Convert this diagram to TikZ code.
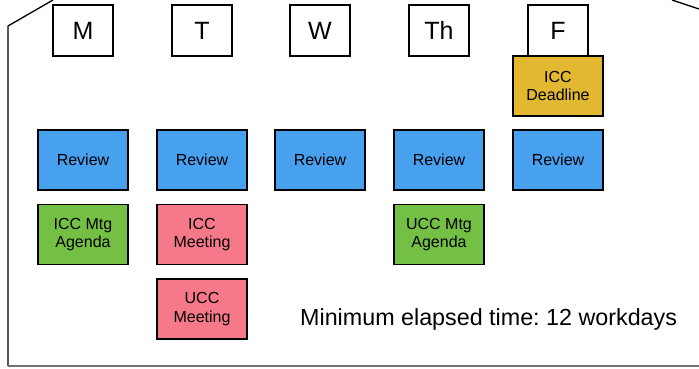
\documentclass[tikz,border=0pt]{standalone}
\usepackage{fontspec}
\setmainfont{Liberation Sans}
\frenchspacing
\definecolor{revblue}{RGB}{71,161,239}
\definecolor{agreen}{RGB}{116,192,68}
\definecolor{mpink}{RGB}{246,121,138}
\definecolor{dgold}{RGB}{226,184,48}
\begin{document}
\begin{tikzpicture}[x=1pt,y=-1pt,
  day/.style={draw=black,line width=1.1pt,fill=white,minimum width=60pt,minimum height=51pt,inner sep=0pt,font=\fontsize{25}{29}\selectfont},
  task/.style={draw=black,line width=1.1pt,minimum width=90pt,minimum height=60pt,inner sep=0pt,align=center,font=\fontsize{16}{18.5}\selectfont},
  outline/.style={line width=1.3pt,draw=black}]
\useasboundingbox (0,0) rectangle (699,368);
% outer frame
\draw[outline] (8,366) -- (8,26) -- (53,0);
\draw[outline] (672,0) -- (699,9);
\draw[line width=1.6pt,draw=black!55] (8,366) -- (699,366);
% day headers
\node[day] (m) at (83,30.5) {M};
\node[day] (t) at (202,30.5) {T};
\node[day] (w) at (320,30.5) {W};
\node[day] (th) at (439,30.5) {Th};
\node[day] (f) at (558,30.5) {F};
% tasks
\node[task,fill=dgold] (dl) at (558,86) {ICC\\Deadline};
\node[task,fill=revblue] (rm) at (83,160) {Review};
\node[task,fill=revblue] (rt) at (202,160) {Review};
\node[task,fill=revblue] (rw) at (320,160) {Review};
\node[task,fill=revblue] (rth) at (439,160) {Review};
\node[task,fill=revblue] (rf) at (558,160) {Review};
\node[task,fill=agreen] (am) at (83,234.5) {ICC Mtg\\Agenda};
\node[task,fill=mpink] (icm) at (202,234.5) {ICC\\Meeting};
\node[task,fill=agreen] (ath) at (439,234.5) {UCC Mtg\\Agenda};
\node[task,fill=mpink] (ucm) at (202,309) {UCC\\Meeting};
% note
\node[anchor=base west,inner sep=0pt,font=\fontsize{23.3}{27}\selectfont] (note) at (300,325) {Minimum elapsed time: 12 workdays};
\end{tikzpicture}
\end{document}
